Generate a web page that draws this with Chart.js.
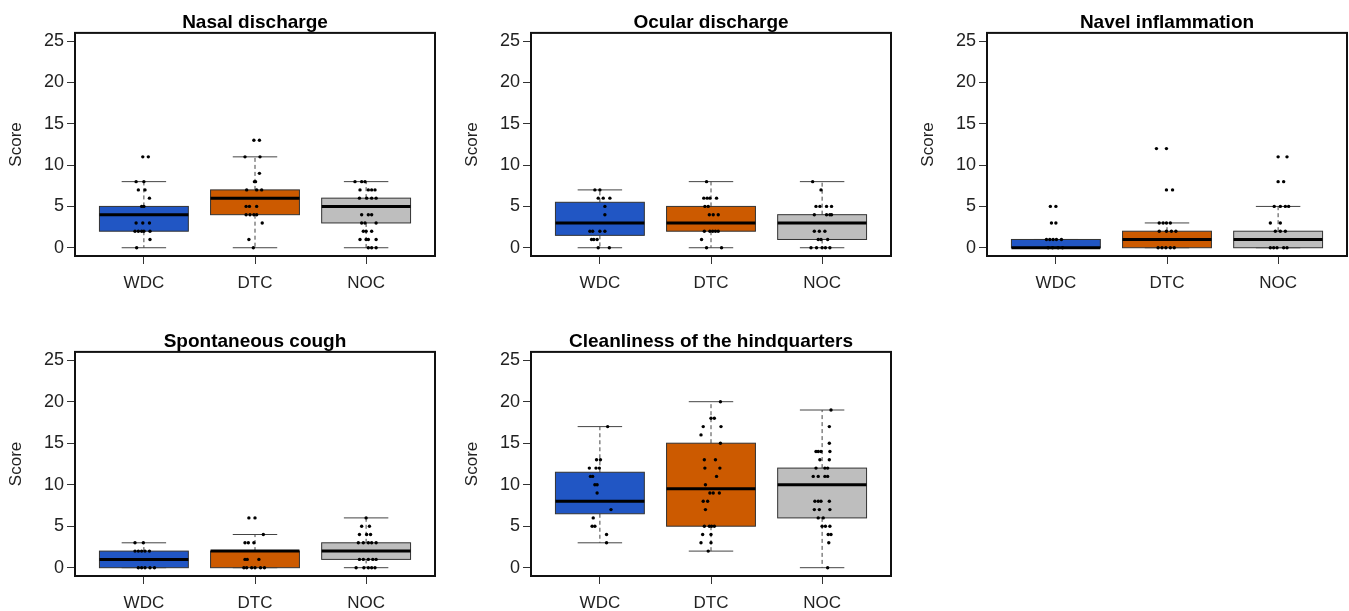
<!DOCTYPE html>
<html>
<head>
<meta charset="utf-8">
<script src="https://cdn.jsdelivr.net/npm/chart.js@4.4.1/dist/chart.umd.min.js"></script>
<style>
  html, body { margin: 0; padding: 0; background: #fff; overflow: hidden; }
  canvas { position: absolute; }
</style>
</head>
<body>
<canvas id="c0" width="440" height="300" style="left:0;top:0"></canvas>
<canvas id="c1" width="440" height="300" style="left:456px;top:0"></canvas>
<canvas id="c2" width="440" height="300" style="left:912px;top:0"></canvas>
<canvas id="c3" width="440" height="301" style="left:0;top:319px"></canvas>
<canvas id="c4" width="440" height="301" style="left:456px;top:319px"></canvas>
<script>
const groups = ["WDC", "DTC", "NOC"];
const titles = ["Nasal discharge", "Ocular discharge", "Navel inflammation",
  "Spontaneous cough", "Cleanliness of the hindquarters"];
const yTicks = [0, 5, 10, 15, 20, 25];
const fills = ["#2156C4", "#CC5A00", "#BEBEBE"];

// box stats per group: [lower whisker, Q1, median, Q3, upper whisker]
const nasalBox = [[0, 2, 4, 5, 8], [0, 4, 6, 7, 11], [0, 3, 5, 6, 8]];
const ocularBox = [[0, 1.5, 3, 5.5, 7], [0, 2, 3, 5, 8], [0, 1, 3, 4, 8]];
const navelBox = [[0, 0, 0, 1, 1], [0, 0, 1, 2, 3], [0, 0, 1, 2, 5]];
const coughBox = [[0, 0, 1, 2, 3], [0, 0, 2, 2, 4], [0, 1, 2, 3, 6]];
const cleanBox = [[3, 6.5, 8, 11.5, 17], [2, 5, 9.5, 15, 20], [0, 6, 10, 12, 19]];

// individual scores as [jittered group position, score]
const nasalPts = [
  [[0.99,11],[1.04,11],[0.93,8],[1.0,8],[0.95,7],[1.01,7],[1.05,6],[0.98,5],[1.0,5],[0.93,3],[0.99,3],[1.05,3],
   [0.92,2],[0.95,2],[0.98,2],[1.0,2],[1.055,2],[1.055,1],[0.935,0]],
  [[1.99,13],[2.04,13],[1.91,11],[2.045,11],[2.04,9],[1.995,8],[2.005,8],[1.925,7],[2.015,7],[2.06,7],[1.92,5],
   [1.95,5],[2.015,5],[1.92,4],[1.955,4],[1.99,4],[2.015,4],[2.065,3],[1.945,1],[1.985,0]],
  [[2.9,8],[2.96,8],[2.99,8],[2.945,7],[3.02,7],[3.05,7],[3.08,7],[2.94,6],[3.005,6],[3.05,6],[3.09,6],[2.96,4],
   [3.02,4],[3.05,4],[2.96,3],[2.99,3],[3.09,3],[2.975,2],[3.0,2],[3.05,2],[2.945,1],[3.0,1],[3.02,1],[3.09,1],
   [3.02,0],[3.05,0],[3.09,0]]
];
const ocularPts = [
  [[0.955,7],[1.0,7],[0.985,6],[1.03,6],[1.09,6],[1.045,5],[1.045,4],[0.91,2],[0.935,2],[1.0,2],[1.045,2],
   [0.925,1],[0.945,1],[0.975,1],[0.985,0],[1.085,0]],
  [[1.96,8],[1.935,6],[1.965,6],[1.99,6],[2.05,6],[1.945,5],[1.975,5],[1.985,4],[2.02,4],[2.065,4],[1.94,2],
   [1.99,2],[2.015,2],[2.04,2],[2.065,2],[1.915,1],[1.96,0],[2.095,0]],
  [[2.915,8],[2.99,7],[2.945,5],[2.98,5],[3.04,5],[3.085,5],[2.93,4],[3.04,4],[3.07,4],[3.085,4],[2.93,2],
   [2.975,2],[3.025,2],[2.965,1],[2.99,1],[3.05,1],[2.9,0],[2.95,0],[3.0,0],[3.03,0],[3.07,0]]
];
const navelPts = [
  [[0.95,5],[1.0,5],[0.96,3],[1.0,3],[0.915,1],[0.945,1],[0.975,1],[1.005,1],[1.05,1],[0.93,0],[0.97,0],
   [1.02,0],[1.06,0]],
  [[1.905,12],[1.995,12],[1.995,7],[2.05,7],[1.93,3],[1.965,3],[1.995,3],[2.03,3],[1.93,2],[1.995,2],[2.04,2],
   [2.08,2],[1.92,0],[1.955,0],[1.99,0],[2.03,0],[2.065,0]],
  [[3.0,11],[3.08,11],[3.0,8],[3.05,8],[2.965,5],[3.02,5],[3.065,5],[3.095,5],[2.93,3],[3.02,3],[2.975,2],
   [3.02,2],[3.065,2],[2.93,0],[2.96,0],[2.99,0],[3.05,0],[3.08,0]]
];
const coughPts = [
  [[0.92,3],[0.995,3],[0.92,2],[0.95,2],[0.98,2],[1.01,2],[1.05,2],[0.95,0],[0.98,0],[1.01,0],[1.055,0],[1.095,0]],
  [[1.945,6],[2.0,6],[2.075,4],[1.91,3],[1.94,3],[1.99,3],[1.91,1],[1.93,1],[2.035,1],[1.9,0],[1.925,0],
   [1.97,0],[2.0,0],[2.05,0],[2.085,0]],
  [[3.0,6],[2.96,5],[3.03,5],[2.94,4],[3.005,4],[3.04,4],[2.93,3],[2.975,3],[3.02,3],[3.05,3],[3.09,3],
   [2.94,1],[2.975,1],[3.02,1],[3.06,1],[3.09,1],[2.91,0],[2.98,0],[3.02,0],[3.05,0],[3.08,0]]
];
const cleanPts = [
  [[1.07,17],[0.97,13],[1.005,13],[0.905,12],[0.965,12],[0.995,12],[0.915,11],[0.935,11],[0.955,10],
   [0.975,10],[0.975,9],[1.1,7],[0.94,6],[0.93,5],[0.955,5],[1.06,4],[1.06,3]],
  [[2.085,20],[2.0,18],[2.03,18],[1.93,17],[2.09,17],[1.91,16],[2.085,15],[1.94,13],[2.04,13],[1.945,12],
   [2.08,12],[2.05,11],[1.95,10],[1.99,9],[2.02,9],[2.075,9],[1.93,8],[1.97,8],[1.95,7],[1.94,5],[1.985,5],
   [2.005,5],[2.03,5],[1.925,4],[2.0,4],[1.91,3],[2.0,3],[1.975,2]],
  [[3.08,19],[3.065,17],[3.065,15],[2.945,14],[2.965,14],[2.99,14],[3.07,14],[2.98,13],[3.065,13],[2.945,12],
   [3.025,12],[3.05,12],[2.92,11],[2.965,11],[3.025,11],[3.05,11],[2.935,8],[2.965,8],[2.99,8],[3.065,8],
   [2.93,7],[2.975,7],[3.07,7],[2.965,6],[3.01,6],[3.0,5],[3.03,5],[3.07,5],[3.055,4],[3.08,4],[3.06,3],[3.05,0]]
];

Chart.defaults.font.family = "'Liberation Sans', Arial, sans-serif";
Chart.defaults.color = "#222";

function boxPlugin(box) {
  return {
    id: "boxes",
    beforeDatasetsDraw(chart) {
      const { ctx, scales: { x, y } } = chart;
      box.forEach((b, i) => {
        const [lo, q1, med, q3, hi] = b;
        const cx = x.getPixelForValue(i + 1);
        const hw = x.getPixelForValue(i + 1.4) - cx;
        const cap = hw / 2;
        const yLo = y.getPixelForValue(lo), yQ1 = y.getPixelForValue(q1);
        const yMed = y.getPixelForValue(med), yQ3 = y.getPixelForValue(q3);
        const yHi = y.getPixelForValue(hi);
        ctx.save();
        ctx.strokeStyle = "#444";
        ctx.lineWidth = 1;
        ctx.setLineDash([4, 3]);
        ctx.beginPath();
        ctx.moveTo(cx, yQ3); ctx.lineTo(cx, yHi);
        ctx.moveTo(cx, yQ1); ctx.lineTo(cx, yLo);
        ctx.stroke();
        ctx.setLineDash([]);
        ctx.beginPath();
        ctx.moveTo(cx - cap, yHi); ctx.lineTo(cx + cap, yHi);
        ctx.moveTo(cx - cap, yLo); ctx.lineTo(cx + cap, yLo);
        ctx.stroke();
        ctx.fillStyle = fills[i];
        ctx.fillRect(cx - hw, yQ3, hw * 2, yQ1 - yQ3);
        ctx.strokeStyle = "#333";
        ctx.strokeRect(cx - hw, yQ3, hw * 2, yQ1 - yQ3);
        ctx.strokeStyle = "#000";
        ctx.lineWidth = 3;
        ctx.beginPath();
        ctx.moveTo(cx - hw, yMed); ctx.lineTo(cx + hw, yMed);
        ctx.stroke();
        ctx.restore();
      });
    },
    afterDraw(chart) {
      const { ctx, chartArea: a } = chart;
      ctx.save();
      ctx.strokeStyle = "#111";
      ctx.lineWidth = 2;
      ctx.strokeRect(a.left, a.top, a.right - a.left, a.bottom - a.top);
      ctx.restore();
    }
  };
}

function makeChart(id, title, box, pts) {
  return new Chart(document.getElementById(id), {
    type: "scatter",
    data: {
      datasets: [{
        data: pts.flat().map(p => ({ x: p[0], y: p[1] })),
        pointRadius: 1.7,
        pointBackgroundColor: "#000",
        pointBorderWidth: 0
      }]
    },
    options: {
      responsive: false,
      animation: false,
      layout: { padding: { right: 5 } },
      plugins: {
        legend: { display: false },
        tooltip: { enabled: false },
        title: {
          display: true,
          text: title,
          fullSize: false,
          color: "#000",
          font: { size: 19, weight: "bold", lineHeight: 1.1 },
          padding: { top: 12, bottom: 0 }
        }
      },
      scales: {
        x: {
          type: "linear",
          min: 0.38,
          max: 3.62,
          afterBuildTicks: s => { s.ticks = [1, 2, 3].map(v => ({ value: v })); },
          afterFit: s => { s.height = 44; },
          grid: { drawOnChartArea: false, tickLength: 8, color: "#333" },
          border: { display: false },
          ticks: { callback: v => groups[v - 1], padding: 9, font: { size: 17 }, autoSkip: false, maxRotation: 0 }
        },
        y: {
          min: -1,
          max: 26,
          afterBuildTicks: s => { s.ticks = yTicks.map(v => ({ value: v })); },
          afterFit: s => { s.width = 75; },
          grid: { drawOnChartArea: false, tickLength: 8, color: "#333" },
          border: { display: false },
          ticks: { padding: 3, font: { size: 18 } },
          title: { display: true, text: "Score", font: { size: 17 }, padding: { top: 6, bottom: 0 } }
        }
      }
    },
    plugins: [boxPlugin(box)]
  });
}

makeChart("c0", titles[0], nasalBox, nasalPts);
makeChart("c1", titles[1], ocularBox, ocularPts);
makeChart("c2", titles[2], navelBox, navelPts);
makeChart("c3", titles[3], coughBox, coughPts);
makeChart("c4", titles[4], cleanBox, cleanPts);
</script>
</body>
</html>
